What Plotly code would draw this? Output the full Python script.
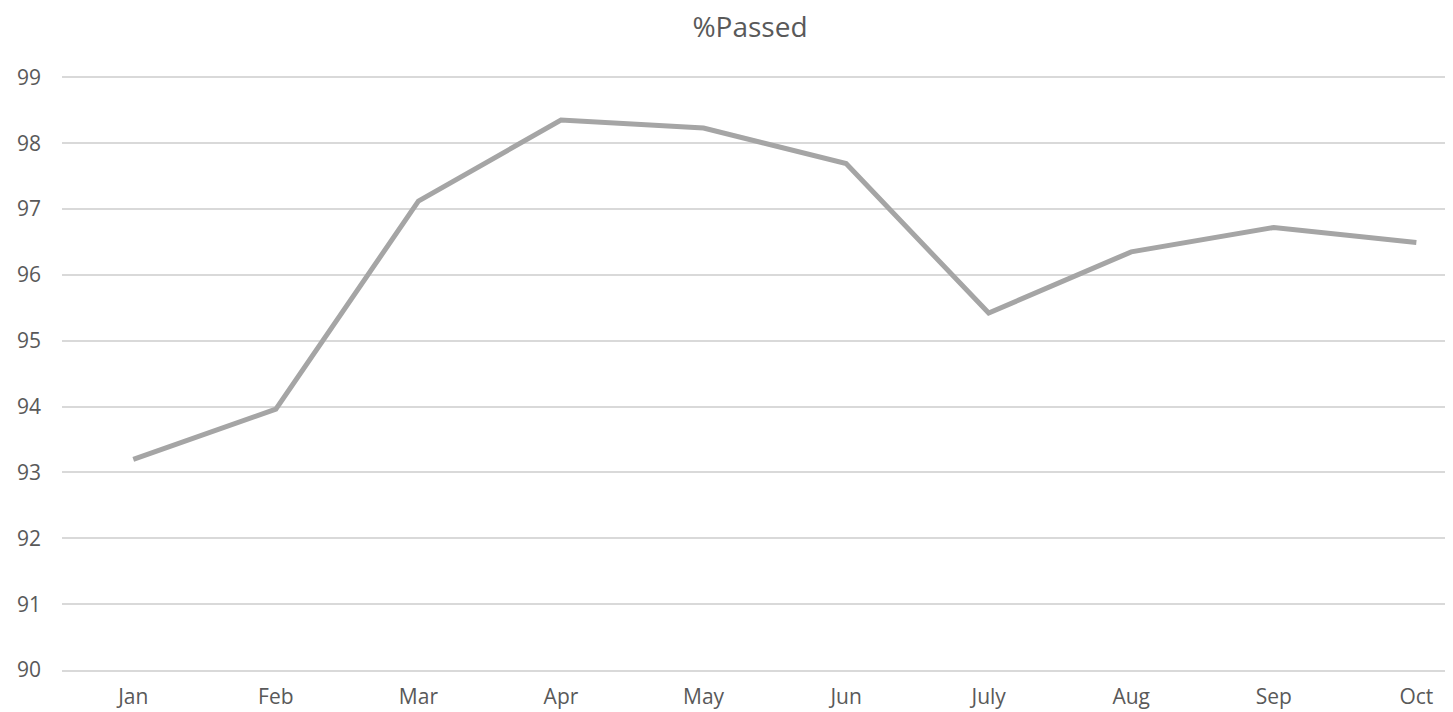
import plotly.graph_objects as go

months = ["Jan", "Feb", "Mar", "Apr", "May", "Jun", "July", "Aug", "Sep", "Oct"]
passed = [93.2, 93.96, 97.12, 98.35, 98.23, 97.69, 95.42, 96.35, 96.72, 96.49]
y_ticks = [90, 91, 92, 93, 94, 95, 96, 97, 98, 99]

W, H = 1453, 712  # page body adds an 8px offset; margins compensate

fig = go.Figure()
fig.add_trace(go.Scatter(
    x=list(range(len(months))), y=passed, mode="lines",
    line=dict(color="#A5A5A5", width=5), name="%Passed",
))

font_family = "Open Sans, Liberation Sans, sans-serif"
fig.update_layout(
    width=W, height=H,
    margin=dict(l=54, r=8, t=68, b=50, autoexpand=False),
    paper_bgcolor="white", plot_bgcolor="white",
    showlegend=False,
    title=dict(text="%Passed", x=742 / W, xref="container", xanchor="center",
               y=1 - 19 / H, yref="container", yanchor="middle",
               font=dict(family=font_family, size=28, color="#595959")),
    font=dict(family=font_family, color="#595959"),
)

fig.update_xaxes(
    tickmode="array", tickvals=list(range(len(months))), ticktext=months,
    range=[-0.5, 9.257], showgrid=False, zeroline=False,
    showline=True, linecolor="#D9D9D9", linewidth=1.5,
    ticks="", tickfont=dict(size=21, color="#595959"),
    ticklabelstandoff=7, automargin=False,
)
fig.update_yaxes(
    range=[90, 99.02], tickmode="array", tickvals=y_ticks,
    showgrid=True, gridcolor="#D9D9D9", gridwidth=1.5, zeroline=False,
    showline=False, ticks="", tickfont=dict(size=21, color="#595959"),
    ticklabelstandoff=20, automargin=False,
)

fig.write_html("out.html")
